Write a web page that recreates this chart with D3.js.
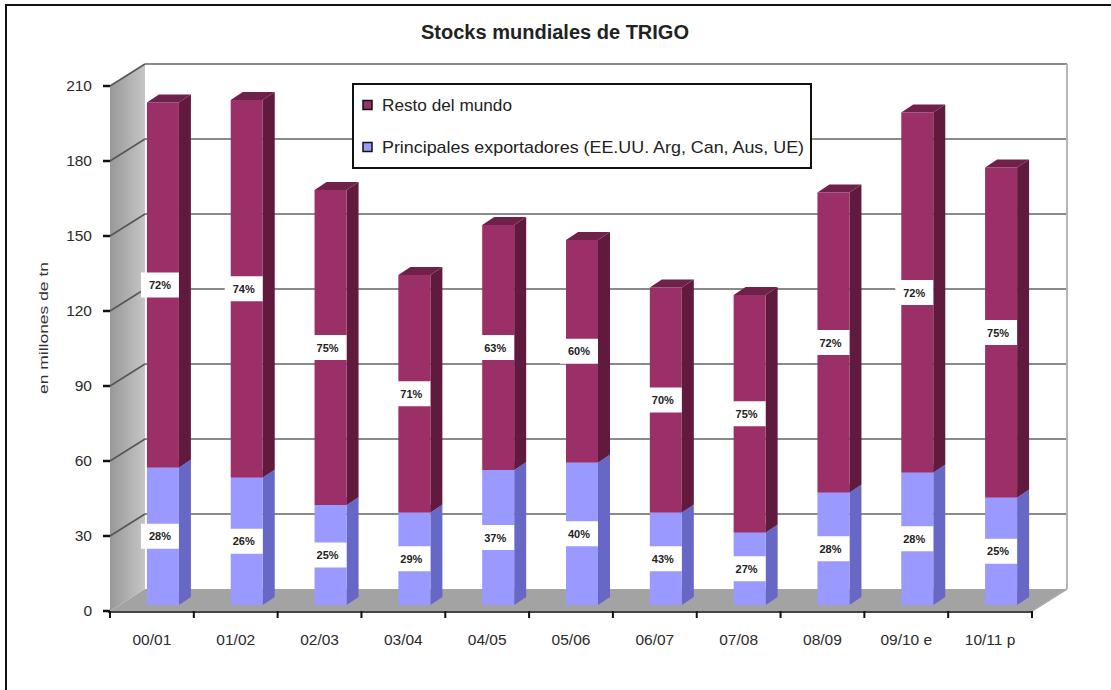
<!DOCTYPE html>
<html>
<head>
<meta charset="utf-8">
<script src="https://cdn.jsdelivr.net/npm/d3@7"></script>
<style>
  body { margin: 0; background: #fff; }
  svg { font-family: "Liberation Sans", Arial, sans-serif; }
</style>
</head>
<body>
<div id="chart"></div>
<script>
var width = 1111;
var height = 690;

// data (millones de tn)
var categories = ["00/01", "01/02", "02/03", "03/04", "04/05", "05/06", "06/07", "07/08", "08/09", "09/10 e", "10/11 p"];
var principales = [55, 51, 40, 37, 54, 57, 37, 29, 45, 53, 43];
var resto = [146, 151, 126, 95, 98, 89, 90, 95, 120, 144, 132];
var restoPct = ["72%", "74%", "75%", "71%", "63%", "60%", "70%", "75%", "72%", "72%", "75%"];
var princPct = ["28%", "26%", "25%", "29%", "37%", "40%", "43%", "27%", "28%", "28%", "25%"];
var yTicks = [0, 30, 60, 90, 120, 150, 180, 210];

var svg = d3.select("#chart").append("svg")
    .attr("width", width)
    .attr("height", height);

// outer frame (right and bottom edges fall outside the picture)
svg.append("rect")
    .attr("x", 6).attr("y", 5)
    .attr("width", 1200).attr("height", 800)
    .attr("fill", "none")
    .attr("stroke", "#111")
    .attr("stroke-width", 2);

// 3D depth of the plot box
var depthX = 35, depthY = -22;

var x = d3.scaleBand().domain(categories).range([110, 1032]);
var y = d3.scaleLinear().domain([0, 210]).range([611, 86]);
// bars sit a little behind the front plane
var yBar = d3.scaleLinear().domain([0, 210]).range([605, 80]);

var defs = svg.append("defs");
var wallGrad = defs.append("linearGradient").attr("id", "wallGrad")
    .attr("x1", "0%").attr("x2", "100%");
wallGrad.append("stop").attr("offset", "0%").attr("stop-color", "#989898");
wallGrad.append("stop").attr("offset", "100%").attr("stop-color", "#c6c6c6");

var x0 = x.range()[0], x1 = x.range()[1];

// side wall
svg.append("path")
    .attr("d", "M" + x0 + "," + y(0) + " L" + x0 + "," + y(210) +
        " L" + (x0 + depthX) + "," + (y(210) + depthY) +
        " L" + (x0 + depthX) + "," + (y(0) + depthY) + " Z")
    .attr("fill", "url(#wallGrad)");

// floor
svg.append("path")
    .attr("d", "M" + x0 + "," + y(0) + " L" + (x0 + depthX) + "," + (y(0) + depthY) +
        " L" + (x1 + depthX) + "," + (y(0) + depthY) + " L" + x1 + "," + y(0) + " Z")
    .attr("fill", "#a3a3a3");

// back wall gridlines
var grid = svg.append("g");
grid.selectAll("line.h")
    .data(yTicks.filter(function(d) { return d > 0; }))
    .enter().append("line")
    .attr("x1", x0 + depthX).attr("x2", x1 + depthX)
    .attr("y1", function(d) { return y(d) + depthY; })
    .attr("y2", function(d) { return y(d) + depthY; })
    .attr("stroke", "#8a8a8a").attr("stroke-width", 2);
grid.selectAll("line.d")
    .data(yTicks.filter(function(d) { return d > 0; }))
    .enter().append("line")
    .attr("x1", x0).attr("x2", x0 + depthX)
    .attr("y1", function(d) { return y(d); })
    .attr("y2", function(d) { return y(d) + depthY; })
    .attr("stroke", "#555").attr("stroke-width", 1.5);
grid.append("line")
    .attr("x1", x1 + depthX).attr("x2", x1 + depthX)
    .attr("y1", y(210) + depthY).attr("y2", y(0) + depthY)
    .attr("stroke", "#b5b5b5").attr("stroke-width", 2);
grid.append("line")
    .attr("x1", x1).attr("x2", x1 + depthX)
    .attr("y1", y(0)).attr("y2", y(0) + depthY)
    .attr("stroke", "#aaa").attr("stroke-width", 1.5);

// bars
var barW = 32, barDX = 12, barDY = -8, barShift = 11;
function barLeft(c) { return x(c) + x.bandwidth() / 2 + barShift - barW / 2; }

var series = [
  { values: principales, base: function(i) { return 0; },
    front: "#9999ff", side: "#6767c6", top: "#7b7be0" },
  { values: resto, base: function(i) { return principales[i]; },
    front: "#9b2f67", side: "#5f1a3e", top: "#6f2149" }
];

series.forEach(function(s) {
  var g = svg.append("g");
  categories.forEach(function(c, i) {
    var lx = barLeft(c);
    var yb = yBar(s.base(i));
    var yt = yBar(s.base(i) + s.values[i]);
    g.append("path")
        .attr("d", "M" + (lx + barW) + "," + yb + " L" + (lx + barW + barDX) + "," + (yb + barDY) +
            " L" + (lx + barW + barDX) + "," + (yt + barDY) + " L" + (lx + barW) + "," + yt + " Z")
        .attr("fill", s.side);
    g.append("rect")
        .attr("x", lx).attr("y", yt)
        .attr("width", barW).attr("height", yb - yt)
        .attr("fill", s.front);
    g.append("path")
        .attr("d", "M" + lx + "," + yt + " L" + (lx + barDX) + "," + (yt + barDY) +
            " L" + (lx + barW + barDX) + "," + (yt + barDY) + " L" + (lx + barW) + "," + yt + " Z")
        .attr("fill", s.top);
  });
});

// percentage labels
function addLabels(vals, base, texts) {
  var g = svg.append("g");
  categories.forEach(function(c, i) {
    var cx = barLeft(c) + barW / 2 - 3;
    var cy = yBar(base(i) + vals[i] / 2);
    g.append("rect")
        .attr("x", cx - 19).attr("y", cy - 12.5)
        .attr("width", 38).attr("height", 25)
        .attr("fill", "#fff");
    g.append("text")
        .attr("x", cx).attr("y", cy + 4)
        .attr("text-anchor", "middle")
        .attr("font-size", 11).attr("font-weight", "bold")
        .attr("fill", "#222")
        .text(texts[i]);
  });
}
addLabels(principales, function(i) { return 0; }, princPct);
addLabels(resto, function(i) { return principales[i]; }, restoPct);

// x axis
svg.append("line")
    .attr("x1", x0 - 2).attr("x2", x1)
    .attr("y1", y(0) + 1).attr("y2", y(0) + 1)
    .attr("stroke", "#444").attr("stroke-width", 2);
var xTickPos = categories.map(function(c) { return x(c); }).concat([x1]);
svg.append("g").selectAll("line")
    .data(xTickPos).enter().append("line")
    .attr("x1", function(d) { return d; }).attr("x2", function(d) { return d; })
    .attr("y1", y(0)).attr("y2", y(0) + 7)
    .attr("stroke", "#111").attr("stroke-width", 2);
svg.append("g").selectAll("text")
    .data(categories).enter().append("text")
    .attr("x", function(d) { return x(d) + x.bandwidth() / 2; })
    .attr("y", 645)
    .attr("text-anchor", "middle")
    .attr("font-size", 15.5)
    .attr("fill", "#2b2b2b")
    .text(function(d) { return d; });

// y axis
var yAxisG = svg.append("g");
yAxisG.selectAll("line")
    .data(yTicks).enter().append("line")
    .attr("x1", x0 - 7).attr("x2", x0)
    .attr("y1", function(d) { return y(d); })
    .attr("y2", function(d) { return y(d); })
    .attr("stroke", "#111").attr("stroke-width", 2.5);
yAxisG.selectAll("text")
    .data(yTicks).enter().append("text")
    .attr("x", 92)
    .attr("y", function(d) { return y(d) + 5; })
    .attr("text-anchor", "end")
    .attr("font-size", 15.5)
    .attr("fill", "#2b2b2b")
    .text(function(d) { return d; });

svg.append("text")
    .attr("transform", "translate(48,328) rotate(-90)")
    .attr("text-anchor", "middle")
    .attr("font-size", 12.5)
    .attr("textLength", 132)
    .attr("lengthAdjust", "spacingAndGlyphs")
    .attr("fill", "#333")
    .text("en millones de tn");

// title
svg.append("text")
    .attr("x", 555).attr("y", 39)
    .attr("text-anchor", "middle")
    .attr("font-size", 20).attr("font-weight", "bold")
    .attr("textLength", 268)
    .attr("lengthAdjust", "spacingAndGlyphs")
    .attr("fill", "#222")
    .text("Stocks mundiales de TRIGO");

// legend
var legendItems = [
  { label: "Resto del mundo", color: "#9b2f67", len: 130 },
  { label: "Principales exportadores (EE.UU. Arg, Can, Aus, UE)", color: "#9999ff", len: 422 }
];
var legend = svg.append("g");
legend.append("rect")
    .attr("x", 353).attr("y", 84)
    .attr("width", 458).attr("height", 84)
    .attr("fill", "#fff")
    .attr("stroke", "#111").attr("stroke-width", 2);
legendItems.forEach(function(d, i) {
  var ly = 105 + i * 42;
  legend.append("rect")
      .attr("x", 363).attr("y", ly - 4.5)
      .attr("width", 9).attr("height", 9)
      .attr("fill", d.color)
      .attr("stroke", "#111").attr("stroke-width", 1.5);
  legend.append("text")
      .attr("x", 382).attr("y", ly + 6)
      .attr("font-size", 17)
      .attr("textLength", d.len)
      .attr("lengthAdjust", "spacingAndGlyphs")
      .attr("fill", "#222")
      .text(d.label);
});
</script>
</body>
</html>
